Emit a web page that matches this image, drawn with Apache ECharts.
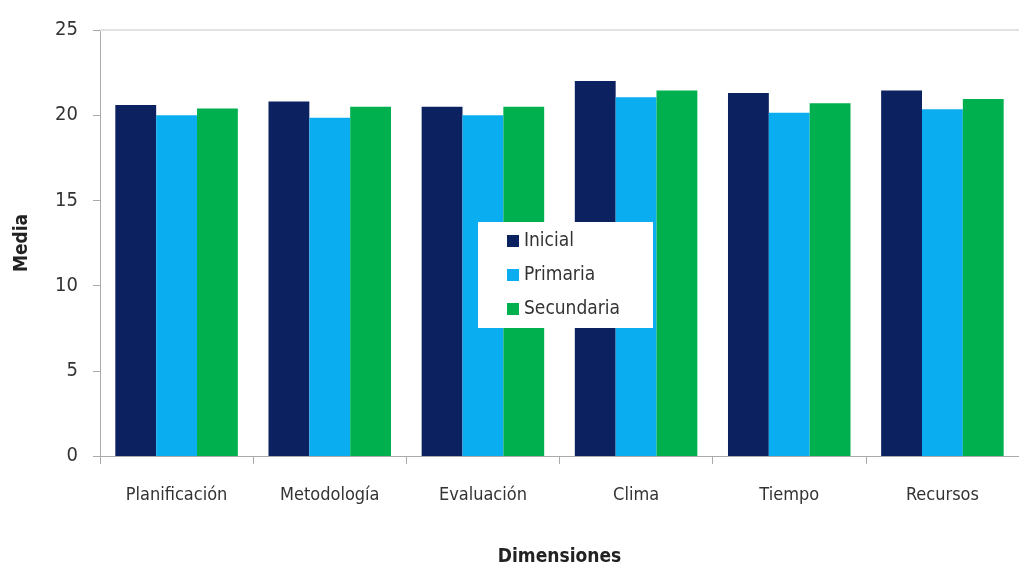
<!DOCTYPE html>
<html>
<head>
<meta charset="utf-8">
<script src="https://cdn.jsdelivr.net/npm/echarts@6/dist/echarts.min.js"></script>
<style>
  html, body { margin: 0; padding: 0; background: #fff; }
  #chart { width: 1019px; height: 572px; }
</style>
</head>
<body>
<div id="chart"></div>
<script>
// Mean score per dimension, by school level
const categories = ['Planificación', 'Metodología', 'Evaluación', 'Clima', 'Tiempo', 'Recursos'];
const inicial    = [20.6, 20.8, 20.5, 22.0, 21.3, 21.45];
const primaria   = [20.0, 19.85, 20.0, 21.05, 20.15, 20.35];
const secundaria = [20.4, 20.5, 20.5, 21.45, 20.7, 20.95];
const seriesNames = ['Inicial', 'Primaria', 'Secundaria'];
const yTicks = { min: 0, max: 25, interval: 5 };

const font = "'DejaVu Sans Condensed', 'Liberation Sans Narrow', sans-serif";
const colors = ['#0b2160', '#0aadef', '#00b04f'];

const chart = echarts.init(document.getElementById('chart'));
chart.setOption({
  animation: false,
  color: colors,
  grid: { left: 100, right: 0, top: 30, bottom: 114 },
  legend: {
    orient: 'vertical',
    left: 478,
    top: 222,
    backgroundColor: '#ffffff',
    padding: [9, 33, 9, 29],
    itemGap: 14,
    itemWidth: 12,
    itemHeight: 12,
    icon: 'rect',
    textStyle: { fontFamily: font, fontSize: 19, color: '#333', lineHeight: 20 },
    data: seriesNames
  },
  xAxis: [
    {
      type: 'category',
      data: categories,
      position: 'bottom',
      axisLine: { lineStyle: { color: '#aaaaaa', width: 1 } },
      axisTick: { show: true, length: 8, lineStyle: { color: '#aaaaaa' } },
      axisLabel: { fontFamily: font, fontSize: 18, color: '#333', margin: 30 },
      name: 'Dimensiones',
      nameLocation: 'middle',
      nameGap: 92,
      nameTextStyle: { fontFamily: font, fontSize: 19, fontWeight: 'bold', color: '#222' }
    },
    {
      type: 'category',
      data: categories,
      position: 'top',
      axisLine: { lineStyle: { color: '#e2e2e2', width: 2 } },
      axisTick: { show: false },
      axisLabel: { show: false }
    }
  ],
  yAxis: {
    type: 'value',
    min: yTicks.min,
    max: yTicks.max,
    interval: yTicks.interval,
    axisLine: { show: true, lineStyle: { color: '#aaaaaa', width: 1 } },
    axisTick: { show: true, length: 7, lineStyle: { color: '#aaaaaa' } },
    splitLine: { show: false },
    axisLabel: { fontFamily: font, fontSize: 20, color: '#333', margin: 22 },
    name: 'Media',
    nameLocation: 'middle',
    nameGap: 68,
    nameTextStyle: { fontFamily: font, fontSize: 19, fontWeight: 'bold', color: '#222' }
  },
  series: [
    { name: seriesNames[0], type: 'bar', data: inicial, barGap: '0%', barCategoryGap: '20%' },
    { name: seriesNames[1], type: 'bar', data: primaria, barGap: '0%', barCategoryGap: '20%' },
    { name: seriesNames[2], type: 'bar', data: secundaria, barGap: '0%', barCategoryGap: '20%' }
  ]
});
</script>
</body>
</html>
